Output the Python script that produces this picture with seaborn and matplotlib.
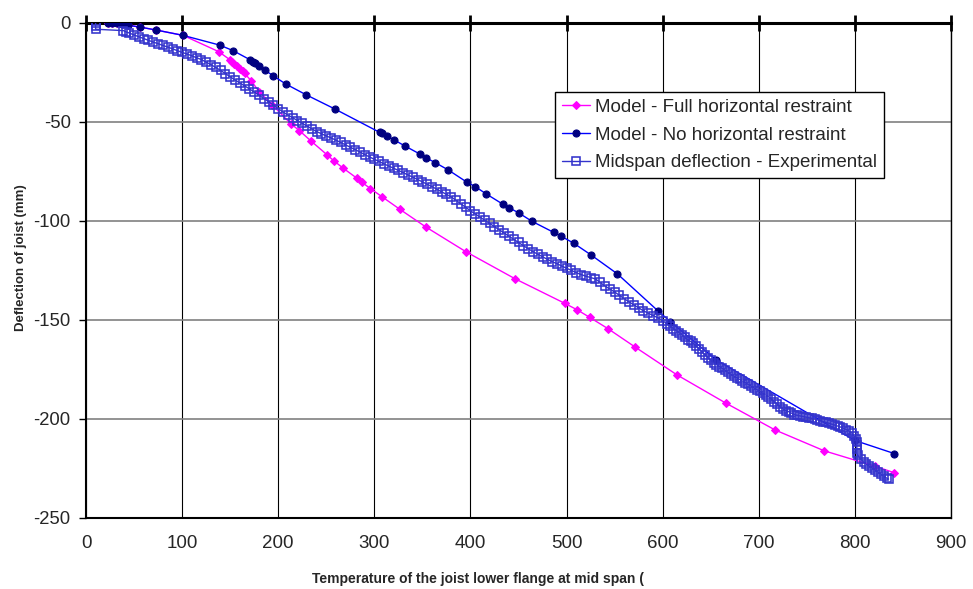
import matplotlib
matplotlib.use("Agg")
import matplotlib.pyplot as plt
from matplotlib import font_manager
import seaborn as sns

# Model - Full horizontal restraint (temperature degC, deflection mm)
full_T = [23, 27, 32, 37, 44, 56, 73, 101, 138, 150, 152, 154, 157, 160, 163, 165,
          172, 180, 194, 213.6, 222, 234, 251, 257.7, 267.4, 282, 287, 296, 308,
          326.4, 354, 395.4, 446.7, 498, 511, 524, 543, 571.6, 615, 666, 717, 768,
          821, 841]
full_D = [0, 0, -0.3, -0.8, -1.3, -2.2, -3.7, -6.4, -14.6, -18.8, -19.8, -20.8, -22.0,
          -23.2, -24.4, -25.6, -29.4, -34.8, -41.6, -51.2, -54.5, -59.7, -66.8, -69.7,
          -73.4, -78.6, -80.6, -83.8, -87.9, -94.2, -103.3, -115.7, -129.4, -141.7,
          -145.0, -148.8, -154.5, -163.9, -177.9, -192.2, -205.7, -216.2, -224.0, -227.3]

# Model - No horizontal restraint
free_T = [23, 27, 32, 37, 44, 56, 73, 101, 139, 153, 171, 173.5, 176, 180, 186, 195,
          208, 229, 259, 305.6, 308, 313, 320.5, 332, 348, 354, 363.5, 377, 396.5,
          405, 416.5, 433.5, 440, 450, 464, 486.6, 494, 507.5, 525.5, 553, 595, 608,
          656, 800, 841]
free_D = [0, 0, -0.3, -0.8, -1.3, -2.2, -3.7, -6.4, -11.3, -14.1, -18.8, -19.7, -20.5,
          -21.9, -23.9, -26.9, -31.0, -36.4, -43.6, -55.4, -55.9, -57.2, -59.2, -62.3,
          -66.5, -68.3, -70.7, -74.4, -80.6, -82.8, -86.5, -91.6, -93.4, -96.0, -100.3,
          -105.9, -107.7, -111.4, -117.3, -126.9, -145.5, -151.0, -170.4, -211.0, -217.6]

# Midspan deflection - Experimental
exp_T = [10, 10, 10, 39, 42, 45, 50, 55, 60, 65, 70, 75, 80, 85, 90, 95, 100,
         105, 110, 115, 120, 125, 130, 135, 140, 145, 150, 155, 160, 165, 170, 175,
         180, 185, 190, 195, 200, 205, 210, 215, 220, 225, 230, 235, 240, 245, 250,
         255, 260, 265, 270, 275, 280, 285, 290, 295, 300, 305, 310, 315, 320, 325,
         330, 335, 340, 345, 350, 355, 360, 365, 370, 375, 380, 385, 390, 395, 400,
         405, 410, 415, 420, 425, 430, 435, 440, 445, 450, 455, 460, 465, 470, 475,
         480, 485, 490, 495, 500, 505, 510, 515, 520, 525, 530, 535, 540, 545, 550,
         555, 560, 565, 570, 575, 580, 585, 590, 595, 600, 605,
         608, 611, 614, 617, 620, 623, 626, 629, 632, 635, 638, 641, 644, 647, 650,
         653, 656, 659, 662, 665, 668, 671, 674, 677, 680, 683, 686, 689, 692, 695,
         698, 701, 704, 707, 710, 713, 716, 719, 722, 725, 728, 731, 734, 737, 740,
         743, 746, 749, 752, 755, 758, 761, 764, 767, 770, 773, 776, 779, 782, 785,
         788, 791, 794, 797, 799, 801, 802, 802, 802, 802, 803, 806, 809, 812, 815,
         818, 821, 824, 827, 830, 833, 835]
exp_D = [0, -1.6, -3.3, -4.0, -4.7, -5.2, -6.2, -7.1, -8.0, -8.9, -9.8, -10.6, -11.5,
         -12.3, -13.2, -14.1, -15.0,
         -15.8, -16.7, -17.7, -18.6, -19.9, -21.2, -22.6, -24.1, -25.7, -27.3, -28.9,
         -30.4, -31.9, -33.4, -35.0, -36.6, -38.3, -39.9, -41.6, -43.4, -45.1, -46.6,
         -48.0, -49.4, -50.8, -52.2, -53.6, -55.0, -56.1, -57.2, -58.2, -59.3, -60.5,
         -61.7, -62.9, -64.1, -65.3, -66.6, -67.8, -69.0, -70.1, -71.3, -72.4, -73.5,
         -74.6, -75.7, -76.9, -78.0, -79.2, -80.4, -81.6, -82.8, -84.1, -85.4, -86.7,
         -88.0, -89.7, -91.5, -93.2, -95.0, -96.6, -98.2, -99.8, -101.4, -103.0,
         -104.6, -106.2, -107.8, -109.4, -111.0, -112.6, -114.1, -115.6, -116.9,
         -118.2, -119.5, -120.7, -121.7, -122.9, -124.0, -125.1, -126.2, -127.2,
         -128.0, -128.7, -129.4, -131.2, -133.0, -134.5, -136.0, -137.7, -139.4,
         -141.0, -142.5, -144.0, -145.5, -146.7, -147.9, -149.0, -150.5, -152.3,
         -153.4, -154.5, -155.5, -156.5, -157.5, -158.9, -160.0, -161.0, -162.0,
         -163.4, -164.8, -166.3, -167.7, -169.1, -170.5, -171.7, -172.7, -173.7,
         -174.6, -175.6, -176.6, -177.6, -178.5, -179.3, -180.1, -181.0, -181.8,
         -182.7, -183.5, -184.4, -185.3, -186.2, -187.1, -188.0, -188.9, -190.1,
         -191.4, -192.6, -193.9, -194.9, -195.9, -196.4, -197.2, -197.9, -198.3,
         -198.6, -198.9, -199.2, -199.5, -199.8, -200.1, -200.6, -201.0, -201.5,
         -201.9, -202.3, -202.8, -203.2, -203.7, -204.2, -204.8, -205.5, -206.3,
         -207.4, -208.8, -210.5, -211.6, -213.5, -215.5, -217.5, -218.5, -220.4,
         -221.8, -223.0, -224.0, -225.0, -226.0, -227.0, -228.0, -229.0, -230.0,
         -230.5]

x_ticks = [0, 100, 200, 300, 400, 500, 600, 700, 800, 900]
y_ticks = [-250, -200, -150, -100, -50, 0]

sns.set_style("white")
plt.rcParams['font.family'] = ['Liberation Sans', 'DejaVu Sans']

installed = {f.name for f in font_manager.fontManager.ttflist}
narrow = 'Liberation Sans Narrow' if 'Liberation Sans Narrow' in installed else 'Liberation Sans'

fig = plt.figure(figsize=(9.73, 5.89), dpi=100)
ax = fig.add_axes([86 / 973, 1 - 517.7 / 589, (951 - 86) / 973, (517.7 - 22.7) / 589])

sns.lineplot(x=full_T, y=full_D, ax=ax, sort=False, estimator=None,
             color='#FF00FF', lw=1.0, marker='D', markersize=4.5,
             markerfacecolor='#FF00FF', markeredgecolor='#FF00FF',
             label='Model - Full horizontal restraint', zorder=3)
sns.lineplot(x=free_T, y=free_D, ax=ax, sort=False, estimator=None,
             color='#0000FF', lw=1.0, marker='o', markersize=5.1,
             markerfacecolor='#000080', markeredgecolor='#000080',
             label='Model - No horizontal restraint', zorder=4)
sns.lineplot(x=exp_T, y=exp_D, ax=ax, sort=False, estimator=None,
             color='#3333CC', lw=1.0, marker='s', markersize=5.6,
             markerfacecolor='none', markeredgecolor='#3333CC', markeredgewidth=1.15,
             label='Midspan deflection - Experimental', zorder=5)

ax.set_xlim(0, 900)
ax.set_ylim(-250, 0)
ax.set_xticks(x_ticks)
ax.set_yticks(y_ticks)
ax.set_xticklabels([str(v) for v in x_ticks], fontsize=13.5, family=narrow)
ax.set_yticklabels([str(v) for v in y_ticks], fontsize=13.3)
ax.set_xlabel('')
ax.set_ylabel('')

ax.set_axisbelow(True)
ax.xaxis.grid(True, color='black', lw=0.8)
ax.yaxis.grid(True, color='#808080', lw=1.2)

ax.tick_params(axis='x', top=True, bottom=False, labeltop=False, labelbottom=True,
               direction='inout', length=11, width=2, color='black', pad=7)
ax.tick_params(axis='y', left=True, right=False, direction='out', length=5,
               width=1, color='black', pad=6)

for side, lw in (('top', 2.2), ('left', 1.5), ('bottom', 1.5), ('right', 1.0)):
    ax.spines[side].set_visible(True)
    ax.spines[side].set_color('black')
    ax.spines[side].set_linewidth(lw)

leg = ax.legend(loc='upper left', bbox_to_anchor=(555 / 973, 1 - 92 / 589),
                bbox_transform=fig.transFigure, frameon=True, fancybox=False,
                edgecolor='black', framealpha=1, fontsize=13.5, handlelength=1.5,
                handletextpad=0.3, labelspacing=0.57, borderpad=0.35, borderaxespad=0)
leg.get_frame().set_linewidth(1.0)

fig.text(478 / 973, 1 - 579 / 589, 'Temperature of the joist lower flange at mid span (',
         ha='center', va='center', fontsize=10, fontweight='bold', family=narrow)
fig.text(21 / 973, 1 - 258 / 589, 'Deflection of joist (mm)', rotation=90,
         ha='center', va='center', fontsize=9.5, fontweight='bold')

fig.savefig('out.png', dpi=100)
